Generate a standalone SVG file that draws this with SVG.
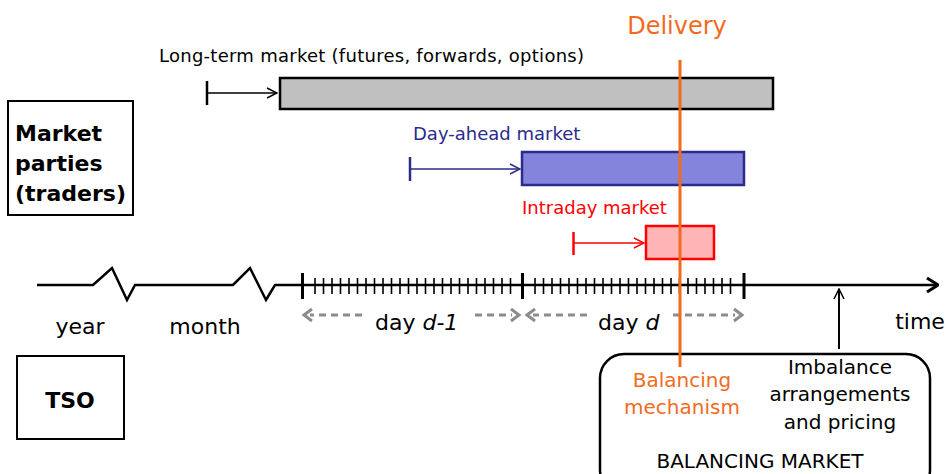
<svg xmlns="http://www.w3.org/2000/svg" width="949" height="474" viewBox="0 0 949 474">
<defs>
<style>
text{font-family:"DejaVu Sans","Liberation Sans",sans-serif;}
.ax{stroke:#000;stroke-width:2.5;fill:none;}
.mn{stroke:#000;stroke-width:1.6;}
.mj{stroke:#000;stroke-width:3;}
.gd{stroke:#8c8c8c;stroke-width:3;stroke-dasharray:7 5;fill:none;}
.gh{stroke:#8c8c8c;stroke-width:3;fill:none;}
.lbl{font-size:22px;fill:#000;}
</style>
<marker id="ah" viewBox="0 0 12 12" refX="11" refY="6" markerWidth="12" markerHeight="12" markerUnits="userSpaceOnUse" orient="auto">
<path d="M1,1 L11,6 L1,11" fill="none" stroke="context-stroke" stroke-width="1.5"/>
</marker>
<marker id="ahb" viewBox="0 0 14 16" refX="13" refY="8" markerWidth="14" markerHeight="16" markerUnits="userSpaceOnUse" orient="auto">
<path d="M2,1 L13,8 L2,15" fill="none" stroke="#000" stroke-width="3"/>
</marker>
</defs>
<rect width="949" height="474" fill="#fff"/>

<g id="title">
<text x="677" y="34" font-size="24" fill="#F26B1D" text-anchor="middle">Delivery</text>
</g>

<g id="market-parties">
<rect x="8" y="101" width="125" height="114" fill="#fff" stroke="#000" stroke-width="2"/>
<text x="15" y="141" font-size="22" font-weight="bold">Market</text>
<text x="15" y="171" font-size="22" font-weight="bold">parties</text>
<text x="15" y="201" font-size="22" font-weight="bold">(traders)</text>
</g>

<g id="tso">
<rect x="17" y="356" width="107" height="83" fill="#fff" stroke="#000" stroke-width="2"/>
<text x="70" y="408" font-size="22" font-weight="bold" text-anchor="middle">TSO</text>
</g>

<g id="long-term">
<text x="159" y="62" font-size="18" textLength="425" lengthAdjust="spacing">Long-term market (futures, forwards, options)</text>
<rect x="280" y="78" width="493" height="31" fill="#C0C0C0" stroke="#000" stroke-width="2.5"/>
</g>

<g id="day-ahead">
<text x="413" y="140" font-size="18" fill="#2B2B8C">Day-ahead market</text>
<rect x="522" y="152" width="222" height="33" fill="#8484DC" stroke="#2B2B8C" stroke-width="2.5"/>
</g>

<g id="intraday">
<text x="522" y="214" font-size="18" fill="#FF0000">Intraday market</text>
<rect x="646" y="226" width="68" height="33" fill="#FFB5B5" stroke="#FF0000" stroke-width="2.5"/>
</g>

<g id="balancing-market">
<rect x="600" y="354" width="330" height="140" rx="24" fill="#fff" stroke="#000" stroke-width="2.5"/>
<text x="682" y="387" font-size="20" fill="#F26B1D" text-anchor="middle">Balancing</text>
<text x="682" y="414" font-size="20" fill="#F26B1D" text-anchor="middle">mechanism</text>
<text x="840" y="374" font-size="20" text-anchor="middle">Imbalance</text>
<text x="840" y="401" font-size="20" text-anchor="middle">arrangements</text>
<text x="840" y="429" font-size="20" text-anchor="middle">and pricing</text>
<text x="760" y="468" font-size="20" text-anchor="middle">BALANCING MARKET</text>
</g>

<g id="axis-labels">
<text x="80" y="334" class="lbl" text-anchor="middle">year</text>
<text x="205" y="334" class="lbl" text-anchor="middle">month</text>
<text x="375" y="330" class="lbl">day <tspan font-style="italic">d-1</tspan></text>
<text x="598" y="330" class="lbl">day <tspan font-style="italic">d</tspan></text>
<text x="920" y="329" class="lbl" text-anchor="middle">time</text>
</g>

<g id="connectors">
<polyline class="ax" points="37,285 93,285 112,268 127,300 135,285 233,285 250,268 266,300 275,285 938,285" marker-end="url(#ahb)"/>
<line class="mj" x1="302.5" y1="273" x2="302.5" y2="299"/>
<line class="mj" x1="522.5" y1="273" x2="522.5" y2="299"/>
<line class="mj" x1="744" y1="273" x2="744" y2="299"/>
<path class="mn" d="M315,278V294M323.5,278V294M332,278V294M340.5,278V294M349,278V294M357.5,278V294M366,278V294M374.5,278V294M383,278V294M391.5,278V294M400,278V294M408.5,278V294M417,278V294M425.5,278V294M434,278V294M442.5,278V294M451,278V294M459.5,278V294M468,278V294M476.5,278V294M485,278V294M493.5,278V294M502,278V294M510.5,278V294"/>
<path class="mn" d="M535,278V294M543.5,278V294M552,278V294M560.5,278V294M569,278V294M577.5,278V294M586,278V294M594.5,278V294M603,278V294M611.5,278V294M620,278V294M628.5,278V294M637,278V294M645.5,278V294M654,278V294M662.5,278V294M671,278V294M679.5,278V294M688,278V294M696.5,278V294M705,278V294M713.5,278V294M722,278V294M730.5,278V294"/>
<line class="gd" x1="362" y1="315" x2="310" y2="315"/>
<path class="gh" d="M312,309 L304,315 L312,321"/>
<line class="gd" x1="475" y1="315" x2="512" y2="315"/>
<path class="gh" d="M511,309 L519,315 L511,321"/>
<line class="gd" x1="587" y1="315" x2="533" y2="315"/>
<path class="gh" d="M535,309 L527,315 L535,321"/>
<line class="gd" x1="673" y1="315" x2="735" y2="315"/>
<path class="gh" d="M734,309 L742,315 L734,321"/>
<line x1="839" y1="349" x2="839" y2="289" stroke="#000" stroke-width="2" marker-end="url(#ah)"/>
<line x1="207" y1="81" x2="207" y2="105" stroke="#000" stroke-width="2.5"/>
<line x1="207" y1="93" x2="277" y2="93" stroke="#000" stroke-width="1.5" marker-end="url(#ah)"/>
<line x1="410" y1="157" x2="410" y2="181" stroke="#2B2B8C" stroke-width="2.5"/>
<line x1="410" y1="169" x2="520" y2="169" stroke="#2B2B8C" stroke-width="1.5" marker-end="url(#ah)"/>
<line x1="573.5" y1="232" x2="573.5" y2="255" stroke="#FF0000" stroke-width="2.5"/>
<line x1="573.5" y1="243" x2="644" y2="243" stroke="#FF0000" stroke-width="1.5" marker-end="url(#ah)"/>
<line x1="680" y1="60" x2="680" y2="367" stroke="#F26B1D" stroke-width="3"/>
</g>
</svg>
